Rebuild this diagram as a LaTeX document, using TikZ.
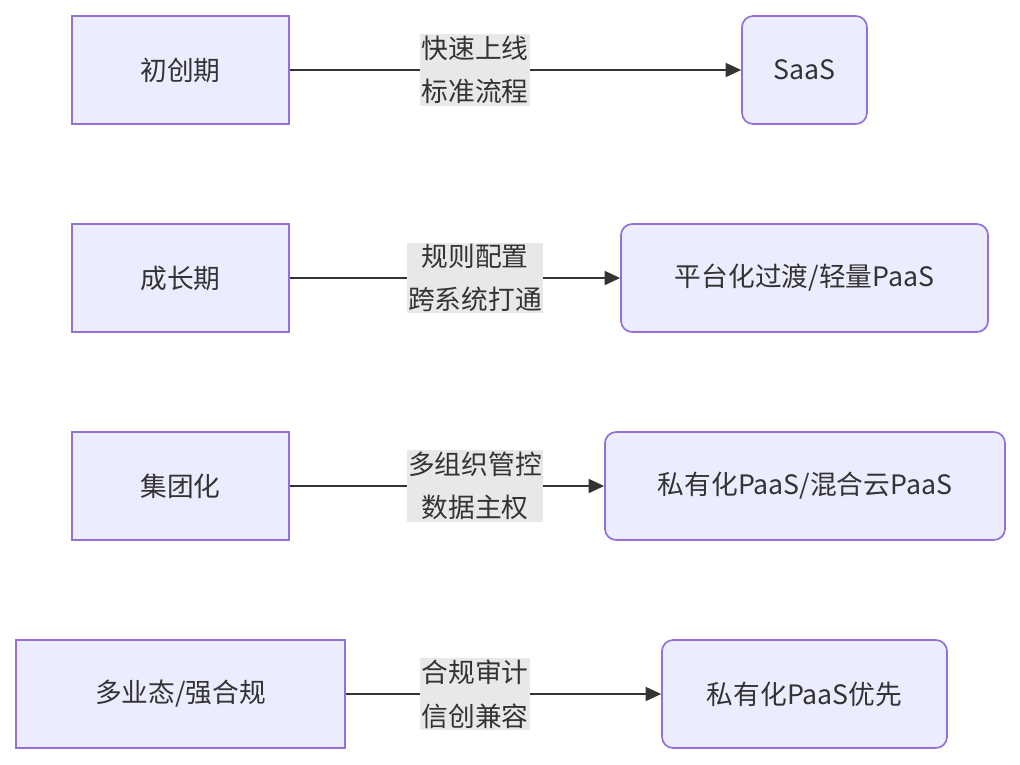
\documentclass[tikz,border=0pt]{standalone}
\usepackage{fontspec}
\setmainfont{Noto Sans CJK SC}
\usetikzlibrary{arrows.meta}
\definecolor{boxfill}{HTML}{ECECFF}
\definecolor{boxline}{HTML}{9370DB}
\definecolor{edgeline}{HTML}{333333}
\definecolor{lblfill}{HTML}{E8E8E8}
\tikzset{
    stage/.style={draw=boxline,fill=boxfill,line width=1.2pt,text=edgeline,
        minimum height=2.7cm,inner sep=0pt,font=\fontsize{19}{23}\selectfont},
    plan/.style={stage,rounded corners=8pt},
    lbl/.style={fill=lblfill,text=edgeline,inner sep=1pt,align=center,
        font=\fontsize{19}{31}\selectfont},
    flow/.style={draw=edgeline,line width=1.1pt,-{Triangle[length=11pt,width=10pt]}}
}
\begin{document}
\begin{tikzpicture}[x=0.025cm,y=-0.025cm]
    \useasboundingbox (0,0) rectangle (1020,764);

    % stages
    \node [stage,minimum width=5.425cm] (s1) at (180.5,70)  {初创期};
    \node [stage,minimum width=5.425cm] (s2) at (180.5,278) {成长期};
    \node [stage,minimum width=5.425cm] (s3) at (180.5,486) {集团化};
    \node [stage,minimum width=8.225cm] (s4) at (180.5,694) {多业态/强合规};

    % suggested plans
    \node [plan,minimum width=3.125cm] (p1) at (804.5,70)  {SaaS};
    \node [plan,minimum width=9.175cm] (p2) at (804.5,278) {平台化过渡/轻量PaaS};
    \node [plan,minimum width=10cm]    (p3) at (805,486)   {私有化PaaS/混合云PaaS};
    \node [plan,minimum width=7.125cm] (p4) at (804.5,694) {私有化PaaS优先};

    \foreach \n in {1,...,4}{%
        \draw [flow] (s\n) -- (p\n);
    }

    \node [lbl] (l1) at (475,70)  {快速上线\\标准流程};
    \node [lbl] (l2) at (475,278) {规则配置\\跨系统打通};
    \node [lbl] (l3) at (475,486) {多组织管控\\数据主权};
    \node [lbl] (l4) at (475,694) {合规审计\\信创兼容};
\end{tikzpicture}
\end{document}
